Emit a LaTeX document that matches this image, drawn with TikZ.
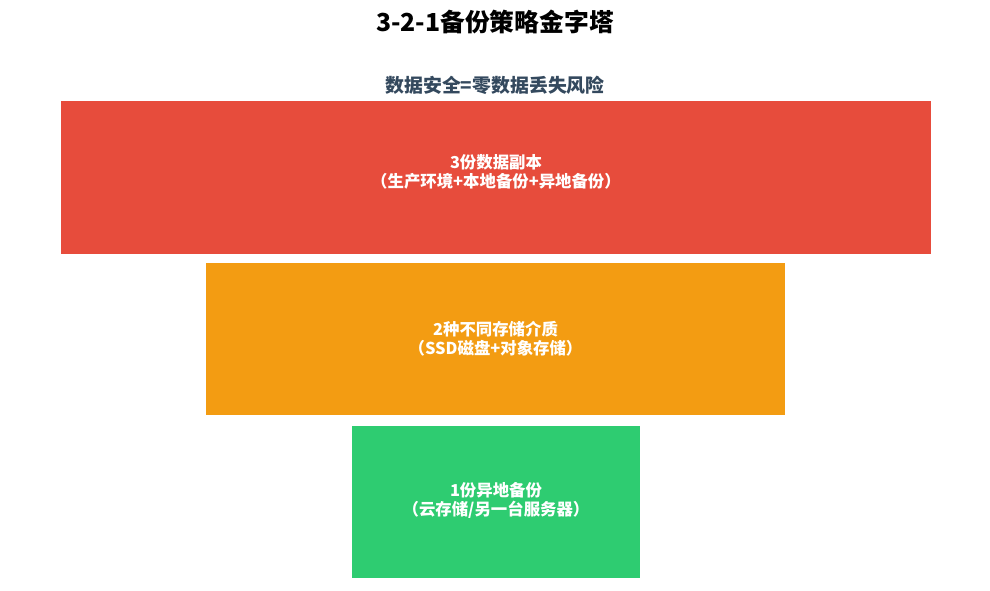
\documentclass[tikz,border=0pt]{standalone}
\usepackage{fontspec}
\setmainfont{Noto Sans CJK SC}
\usepackage{tikz}
\definecolor{tierred}{HTML}{E74C3C}
\definecolor{tierorange}{HTML}{F39C12}
\definecolor{tiergreen}{HTML}{2ECC71}
\definecolor{slate}{HTML}{34495E}
\tikzset{
  tierlabel/.style={text=white, align=center, font=\bfseries\fontsize{16.4}{19}\selectfont}
}
\begin{document}
\begin{tikzpicture}[x=1pt, y=-1pt]

           \useasboundingbox[fill=white] (0,0) rectangle (990,590);

           % Title
           \node (title) at (495,22) {\bfseries\fontsize{24.8}{28}\selectfont 3-2-1备份策略金字塔};
           \node[text=slate] (subtitle) at (495,85) {\bfseries\fontsize{18.9}{22}\selectfont 数据安全=零数据丢失风险};

           % Tier 3
           \fill[tierred] (61,101) rectangle (931,254);
           \node[tierlabel] (three) at (496,172) {3份数据副本\\（生产环境+本地备份+异地备份）};

           % Tier 2
           \fill[tierorange] (206,263) rectangle (785,415);
           \node[tierlabel] (two) at (495.5,339) {2种不同存储介质\\（SSD磁盘+对象存储）};

           % Tier 1
           \fill[tiergreen] (352,426) rectangle (640,578);
           \node[tierlabel] (one) at (496,500) {1份异地备份\\（云存储/另一台服务器）};

\end{tikzpicture}
\end{document}
